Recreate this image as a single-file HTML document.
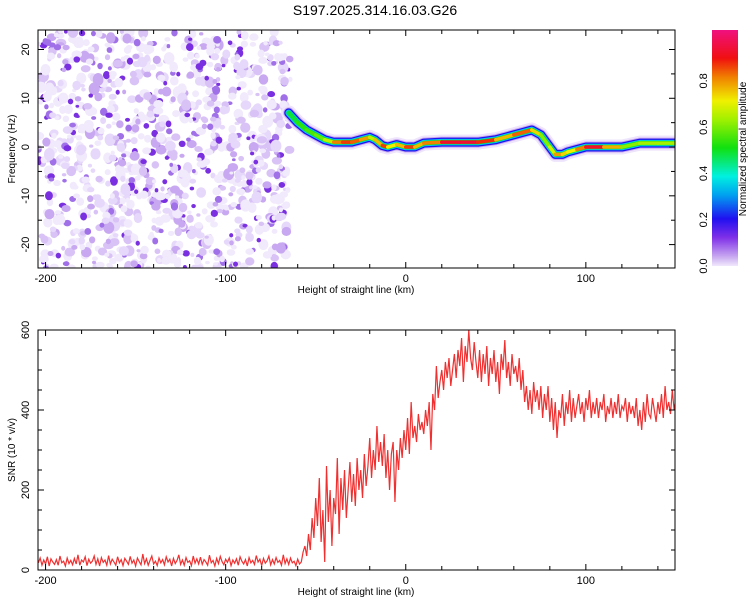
<!DOCTYPE html>
<html><head><meta charset="utf-8"><style>
body{margin:0;background:#fff;}
svg{display:block;font-family:"Liberation Sans",sans-serif;}
</style></head><body>
<svg id="c" width="750" height="600">
<defs>
<linearGradient id="cbg" x1="0" y1="1" x2="0" y2="0">
<stop offset="0" stop-color="#f0e8fc"/><stop offset="0.04" stop-color="#c8a8f0"/>
<stop offset="0.12" stop-color="#8030e8"/><stop offset="0.2" stop-color="#2010f0"/>
<stop offset="0.3" stop-color="#00a0f0"/><stop offset="0.38" stop-color="#00f0e0"/>
<stop offset="0.5" stop-color="#10e010"/><stop offset="0.62" stop-color="#a0f000"/>
<stop offset="0.7" stop-color="#f0f000"/><stop offset="0.8" stop-color="#f08000"/>
<stop offset="0.88" stop-color="#f01010"/><stop offset="1" stop-color="#f01080"/>
</linearGradient>
<clipPath id="clipTop"><rect x="38" y="30" width="637" height="238"/></clipPath>
<clipPath id="clipBot"><rect x="38" y="330" width="637" height="240"/></clipPath>
</defs>
<text x="375" y="15" text-anchor="middle" font-size="14">S197.2025.314.16.03.G26</text>
<g id="topPanel"></g>
<g id="botPanel"></g>
<g id="cbPanel"></g>
</svg>
<script>
// Frequency track (spectrogram ridge)
const trackX = [-65,-60,-55,-50,-45,-40,-35,-30,-25,-20,-17,-13,-10,-5,0,5,10,20,30,40,50,55,60,65,70,75,80,83,87,90,95,100,110,120,130,140,150];
const trackF = [7,5,3.5,2.5,1.5,1,1,1,1.5,2,1.5,0.3,0,0.5,0,0,0.8,1,1,1,1.5,2,2.5,3,3.5,2.5,0,-1.5,-1.5,-1,-0.5,0,0,0,0.8,0.8,0.8];
const trackAmp = [0.45,0.5,0.55,0.55,0.6,0.7,0.9,0.8,0.85,0.7,0.6,0.9,0.8,0.6,0.9,0.8,0.7,0.9,0.92,0.92,0.8,0.7,0.8,0.85,0.8,0.65,0.55,0.8,0.75,0.7,0.7,0.9,0.92,0.6,0.6,0.65,0.6];
// SNR series, heights from -204 km in 1 km steps
const snrStart = -204;
const snrValues = [18,30,12,25,15,33,10,28,20,14,26,12,35,18,22,10,30,16,24,13,29,15,38,12,25,20,33,11,27,17,22,35,14,28,10,31,19,25,12,36,15,27,20,12,33,18,26,11,29,22,14,34,17,25,10,30,21,13,40,16,28,12,24,35,15,22,11,30,18,26,13,33,20,27,10,29,16,24,38,14,25,12,31,19,23,11,35,17,28,15,32,14,26,20,12,37,18,24,10,29,16,34,21,13,27,19,30,11,25,17,28,12,33,22,15,26,10,31,18,24,14,36,20,27,11,29,17,23,35,13,26,15,31,19,24,12,38,16,28,14,30,18,22,11,27,15,20,45,60,35,90,50,130,80,180,110,230,70,150,20,260,120,200,60,180,140,280,90,230,150,250,130,200,270,170,240,160,280,200,250,180,290,210,260,330,230,300,250,360,270,320,260,340,230,300,200,290,320,170,300,250,330,280,350,300,380,290,420,330,360,320,390,350,370,340,400,360,420,300,440,400,510,430,470,500,450,520,480,530,460,500,540,480,550,510,580,470,560,520,600,530,500,570,520,480,550,470,540,490,560,460,530,490,550,470,520,440,540,500,575,480,520,460,540,490,510,470,530,450,500,420,460,400,450,390,470,420,450,400,460,380,440,400,460,370,430,350,420,330,400,380,440,360,420,390,450,370,430,380,410,440,390,420,370,430,400,450,380,420,390,430,380,420,400,440,370,410,390,430,380,420,390,440,380,410,400,430,370,420,390,410,380,430,360,400,350,420,370,440,390,380,430,400,370,420,390,440,380,460,400,420,390,450,400,430];
const xTicks = [-200,-100,0,100];
const freqTicks = [-20,-10,0,10,20];
const snrTicks = [0,200,400,600];
const cbTicks = [0.0,0.2,0.4,0.6,0.8];

const NS="http://www.w3.org/2000/svg";
function mk(tag,attrs,parent){const e=document.createElementNS(NS,tag);for(const k in attrs)e.setAttribute(k,attrs[k]);parent.appendChild(e);return e;}
const X0=38,X1=675,XMIN=-204.2,XMAX=149.5;
const xs=v=>X0+(v-XMIN)/(XMAX-XMIN)*(X1-X0);
const T0=30,T1=268,FMIN=-24.8,FMAX=24;
const fy=v=>T1-(v-FMIN)/(FMAX-FMIN)*(T1-T0);
const B0=330,B1=570;
const sy=v=>B1-v/600*(B1-B0);
const topG=document.getElementById('topPanel'),botG=document.getElementById('botPanel'),cbG=document.getElementById('cbPanel');

function cmap(a){
 const st=[[0,[240,232,252]],[0.04,[200,168,240]],[0.12,[128,48,232]],[0.2,[32,16,240]],[0.3,[0,160,240]],[0.38,[0,240,224]],[0.5,[16,224,16]],[0.62,[160,240,0]],[0.7,[240,240,0]],[0.8,[240,128,0]],[0.88,[240,16,16]],[1,[240,16,128]]];
 for(let i=1;i<st.length;i++){if(a<=st[i][0]){const t=(a-st[i-1][0])/(st[i][0]-st[i-1][0]);const c=st[i-1][1].map((v,j)=>Math.round(v+(st[i][1][j]-v)*t));return `rgb(${c})`;}}
 return 'rgb(240,16,128)';
}

// Top: noise texture
const noiseG=mk('g',{'clip-path':'url(#clipTop)'},topG);


let seed=12345;const rnd=()=>{seed=(seed*16807)%2147483647;return seed/2147483647;};
const cols=['#f1e9fc','#e6d8fa','#d9c3f6','#c8a8f0','#a070e8','#7a30e0'];
for(let i=0;i<1100;i++){
 const hx=XMIN+rnd()*(-64-XMIN),fv=FMIN+rnd()*(FMAX-FMIN);
 const k=Math.floor(Math.pow(rnd(),1.9)*6);
 const r=k>=4?1.8+rnd()*2.2:2+rnd()*3.5;
 mk('ellipse',{cx:xs(hx),cy:fy(fv),rx:r,ry:r*(0.7+rnd()*0.5),fill:cols[k]},noiseG);
}
// Track
const trG=mk('g',{'clip-path':'url(#clipTop)'},topG);


const pts=trackX.map((x,i)=>xs(x)+','+fy(trackF[i])).join(' ');
[[15,'#eee4fb'],[11,'#c8a8f0'],[9,'#2010f0'],[6.5,'#00c8f0'],[4.5,'#10e010']].forEach(([w,c])=>mk('polyline',{points:pts,fill:'none',stroke:c,'stroke-width':w,'stroke-linejoin':'round','stroke-linecap':'round'},trG));
for(let i=0;i<trackX.length-1;i++){
 const s=mk('line',{x1:xs(trackX[i]),y1:fy(trackF[i]),x2:xs(trackX[i+1]),y2:fy(trackF[i+1]),stroke:cmap((trackAmp[i]+trackAmp[i+1])/2),'stroke-width':3.5,'stroke-linecap':'round'},trG);
 
 
}
// Bottom: SNR line
const sp=snrValues.map((v,i)=>xs(snrStart+i)+','+sy(v)).join(' ');
const line=mk('polyline',{points:sp,fill:'none',stroke:'#f03030','stroke-width':1.2,'clip-path':'url(#clipBot)'},botG);



// Axes frames and ticks
function frame(g,y0,y1){
 mk('rect',{x:X0,y:y0,width:X1-X0,height:y1-y0,fill:'none',stroke:'#000','stroke-width':1},g);
 for(let v=-200;v<=140;v+=20){const x=xs(v),L=v%100===0?6:4;
  mk('line',{x1:x,y1:y1,x2:x,y2:y1-L,stroke:'#000'},g);mk('line',{x1:x,y1:y0,x2:x,y2:y0+L,stroke:'#000'},g);}
 xTicks.forEach(v=>{const t=mk('text',{x:xs(v),y:y1+14,'text-anchor':'middle','font-size':11},g);t.textContent=v;
  });
 const xl=mk('text',{x:356,y:y1+25,'text-anchor':'middle','font-size':10},g);xl.textContent='Height of straight line (km)';
 
}
frame(topG,T0,T1);frame(botG,B0,B1);
for(let v=-20;v<=20;v+=5){const y=fy(v),L=v%10===0?6:4;mk('line',{x1:X0,y1:y,x2:X0+L,y2:y,stroke:'#000'},topG);mk('line',{x1:X1,y1:y,x2:X1-L,y2:y,stroke:'#000'},topG);}
freqTicks.forEach(v=>{const t=mk('text',{x:0,y:0,'text-anchor':'middle','font-size':11,transform:`translate(29,${fy(v)}) rotate(-90)`},topG);t.textContent=v;
 });
const yl1=mk('text',{x:0,y:0,'text-anchor':'middle','font-size':10,transform:`translate(15,${(T0+T1)/2}) rotate(-90)`},topG);yl1.textContent='Frequency (Hz)';

for(let v=0;v<=600;v+=50){const y=sy(v),L=v%200===0?6:4;mk('line',{x1:X0,y1:y,x2:X0+L,y2:y,stroke:'#000'},botG);mk('line',{x1:X1,y1:y,x2:X1-L,y2:y,stroke:'#000'},botG);}
snrTicks.forEach(v=>{const t=mk('text',{x:0,y:0,'text-anchor':'middle','font-size':11,transform:`translate(29,${sy(v)}) rotate(-90)`},botG);t.textContent=v;
 });
const yl2=mk('text',{x:0,y:0,'text-anchor':'middle','font-size':10,transform:`translate(15,${(B0+B1)/2}) rotate(-90)`},botG);yl2.textContent='SNR (10 * v/v)';


// Colorbar
const C0=30,C1=266,cbY=v=>C1-v/1.02*(C1-C0);
mk('rect',{x:712,y:C0,width:26,height:C1-C0,fill:'url(#cbg)'},cbG);
cbTicks.forEach(v=>{const t=mk('text',{x:0,y:0,'text-anchor':'middle','font-size':11,transform:`translate(707,${cbY(v)}) rotate(-90)`},cbG);t.textContent=v.toFixed(1);
 });
const ct=mk('text',{x:0,y:0,'text-anchor':'middle','font-size':10,transform:`translate(746,149) rotate(-90)`},cbG);ct.textContent='Normalized spectral amplitude';

</script>
</body></html>
